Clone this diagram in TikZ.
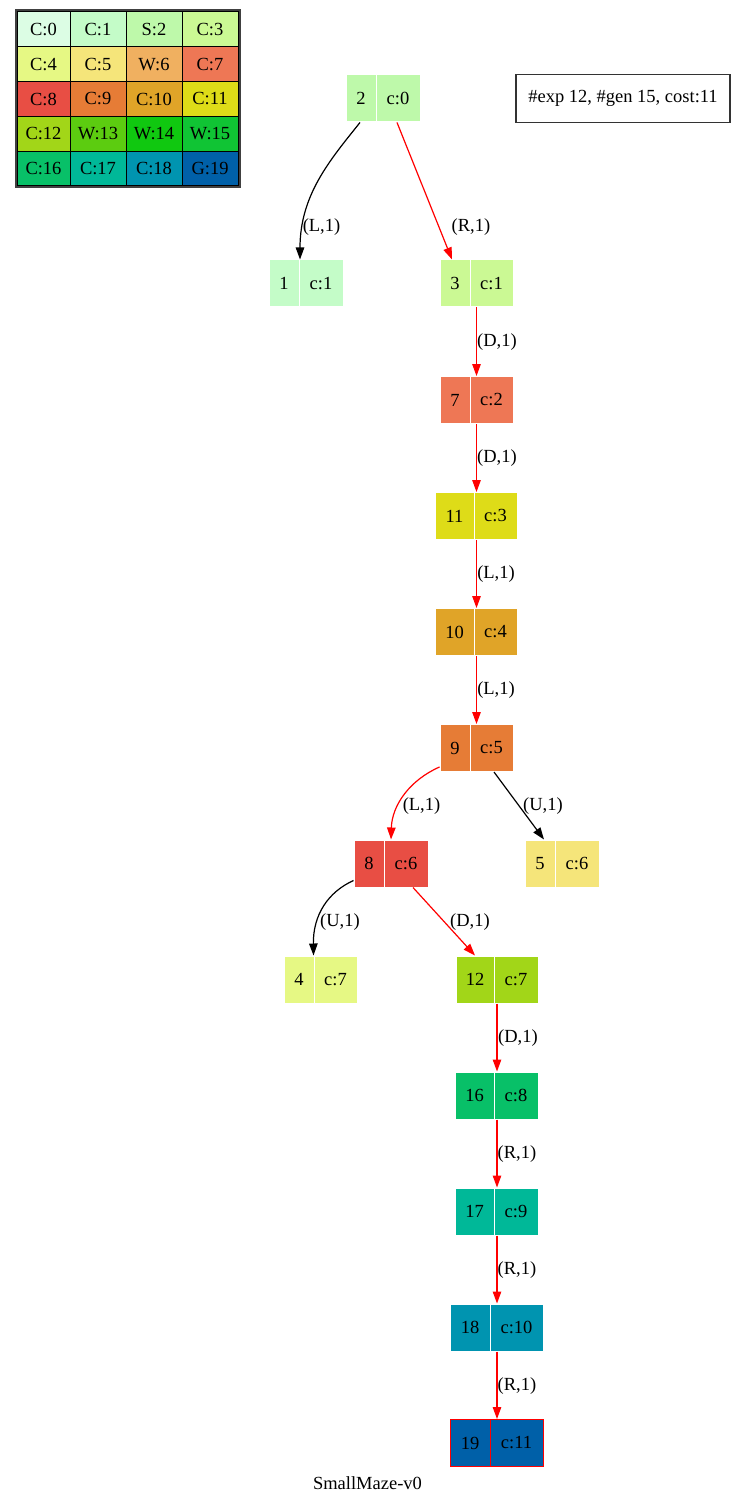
\documentclass[tikz,border=0pt]{standalone}
\usepackage{fontspec}
\setmainfont{Liberation Serif}
\usetikzlibrary{arrows.meta,calc}
\definecolor{c0}{HTML}{DCFDE4}
\definecolor{c1}{HTML}{C4FCC8}
\definecolor{c2}{HTML}{BEF9AA}
\definecolor{c3}{HTML}{CBF994}
\definecolor{c4}{HTML}{E6F884}
\definecolor{c5}{HTML}{F5E57A}
\definecolor{c6}{HTML}{F0B060}
\definecolor{c7}{HTML}{EE7755}
\definecolor{c8}{HTML}{E84E44}
\definecolor{c9}{HTML}{E67C36}
\definecolor{c10}{HTML}{E0A428}
\definecolor{c11}{HTML}{DEDC18}
\definecolor{c12}{HTML}{A2D618}
\definecolor{c13}{HTML}{5CCC10}
\definecolor{c14}{HTML}{10C810}
\definecolor{c15}{HTML}{10C434}
\definecolor{c16}{HTML}{08C068}
\definecolor{c17}{HTML}{00B898}
\definecolor{c18}{HTML}{0094B0}
\definecolor{c19}{HTML}{0060A8}
\newcommand\recnode[9]{%
  \node[recbox, fill=#6, draw=#9, minimum width={(#4-#2)*1pt}] (#1) at ({(#2+#4)/2},#5) {};
  \draw[#9, line width=1pt] (#3,#5-23.5) -- (#3,#5+23.5);
  \node[txt] (#1l) at ({(#2+#3)/2},#5) {#7};
  \node[txt] (#1r) at ({(#3+#4)/2},#5) {#8};
}
\begin{document}
\begin{tikzpicture}[x=1pt,y=-1pt,
  txt/.style={font=\fontsize{18.5}{21}\selectfont, inner sep=0pt},
  recbox/.style={rectangle, minimum height=47pt, inner sep=0pt, line width=1pt},
  cell/.style={rectangle, draw=black, line width=1pt, inner sep=0pt, font=\fontsize{18.5}{21}\selectfont},
  edgeb/.style={black, line width=1.2pt, -{Triangle[length=12pt,width=8.5pt]}},
  edger/.style={red, line width=1.2pt, -{Triangle[length=12pt,width=8.5pt]}},
  elab/.style={font=\fontsize{18.5}{21}\selectfont, inner sep=0pt}]
\useasboundingbox (0,0) rectangle (735,1503);
% legend
\draw[black!75, line width=2pt] (15.5,10.5) rectangle (239.5,187.5);
\foreach \t/\c [count=\i from 0] in {C:0/c0,C:1/c1,S:2/c2,C:3/c3,C:4/c4,C:5/c5,W:6/c6,C:7/c7,C:8/c8,C:9/c9,C:10/c10,C:11/c11,C:12/c12,W:13/c13,W:14/c14,W:15/c15,C:16/c16,C:17/c17,C:18/c18,G:19/c19}{
  \pgfmathtruncatemacro\mycol{mod(\i,4)}
  \pgfmathtruncatemacro\myrow{int(\i/4)}
  \pgfmathsetmacro\myxl{{17,70,126,182}[\mycol]}
  \pgfmathsetmacro\mycw{{53,56,56,56}[\mycol]}
  \pgfmathsetmacro\myyc{12+34.8*\myrow+17.4}
  \node[cell, fill=\c, minimum width=\mycw pt, minimum height=34.8pt] (cell\i) at ({\myxl+\mycw/2},\myyc) {\t};
}
% info and title
\node[draw=black!80, line width=1.3pt, minimum width=214pt, minimum height=48pt, inner sep=0pt, font=\fontsize{18.5}{21}\selectfont] (info) at (623,98.5) {\#exp 12, \#gen 15, cost:11};
\node[txt] (title) at (367.5,1483) {SmallMaze-v0};
% search nodes
\recnode{n2}{346}{376}{420}{98.5}{c2}{2}{c:0}{white}
\recnode{n1}{269}{299}{343}{283.5}{c1}{1}{c:1}{white}
\recnode{n3}{440}{470}{513}{283.5}{c3}{3}{c:1}{white}
\recnode{n7}{440}{470}{513}{400}{c7}{7}{c:2}{white}
\recnode{n11}{435}{474}{517}{516}{c11}{11}{c:3}{white}
\recnode{n10}{435}{474}{517}{632}{c10}{10}{c:4}{white}
\recnode{n9}{440}{470}{513}{748}{c9}{9}{c:5}{white}
\recnode{n8}{354}{384}{428}{863.5}{c8}{8}{c:6}{white}
\recnode{n5}{525}{555}{599}{863.5}{c5}{5}{c:6}{white}
\recnode{n4}{284}{314}{357}{979.5}{c4}{4}{c:7}{white}
\recnode{n12}{456}{494}{538}{979.5}{c12}{12}{c:7}{white}
\recnode{n16}{455}{494}{538}{1095.5}{c16}{16}{c:8}{white}
\recnode{n17}{455}{494}{538}{1211.5}{c17}{17}{c:9}{white}
\recnode{n18}{450}{490}{543}{1327.5}{c18}{18}{c:10}{white}
\recnode{n19}{450}{490}{543}{1443}{c19}{19}{c:11}{red}
% edges
\draw[edgeb] ([xshift=-23pt]n2.south) .. controls (330,160) and (300,195) .. ([xshift=-6pt]n1.north);
\draw[edger] ([xshift=14pt]n2.south) -- ([xshift=-24.5pt]n3.north);
\draw[edger] (n3.south) -- (n3.south |- n7.north);
\draw[edger] (n7.south) -- (n7.south |- n11.north);
\draw[edger] (n7.south |- n11.south) -- (n7.south |- n10.north);
\draw[edger] (n7.south |- n10.south) -- (n9.north);
\draw[edger] ([yshift=5pt]n9.south west) .. controls (410,780) and (392,805) .. (n8.north);
\draw[edgeb] ([xshift=17.5pt]n9.south) -- ([xshift=-18pt]n5.north);
\draw[edgeb] ([yshift=7pt]n8.south west) .. controls (328,892) and (313,915) .. ([xshift=-7pt]n4.north);
\draw[edger] ([xshift=22pt]n8.south) -- ([xshift=-22pt]n12.north);
\draw[edger] (n12.south) -- (n12.south |- n16.north);
\draw[edger] (n12.south |- n16.south) -- (n12.south |- n17.north);
\draw[edger] (n12.south |- n17.south) -- (n12.south |- n18.north);
\draw[edger] (n12.south |- n18.south) -- (n12.south |- n19.north);
% edge labels
\node[elab] (l21) at (321.5,227) {(L,1)};
\node[elab] (l23) at (471,227) {(R,1)};
\node[elab] (l37) at (497,342) {(D,1)};
\node[elab] (l711) at (497,458) {(D,1)};
\node[elab] (l1110) at (496,574) {(L,1)};
\node[elab] (l109) at (496,690) {(L,1)};
\node[elab] (l98) at (421.5,806) {(L,1)};
\node[elab] (l95) at (543,806) {(U,1)};
\node[elab] (l84) at (340,922) {(U,1)};
\node[elab] (l812) at (470,922) {(D,1)};
\node[elab] (l1216) at (518,1038) {(D,1)};
\node[elab] (l1617) at (517,1154) {(R,1)};
\node[elab] (l1718) at (517,1270) {(R,1)};
\node[elab] (l1819) at (517,1386) {(R,1)};
\end{tikzpicture}
\end{document}
